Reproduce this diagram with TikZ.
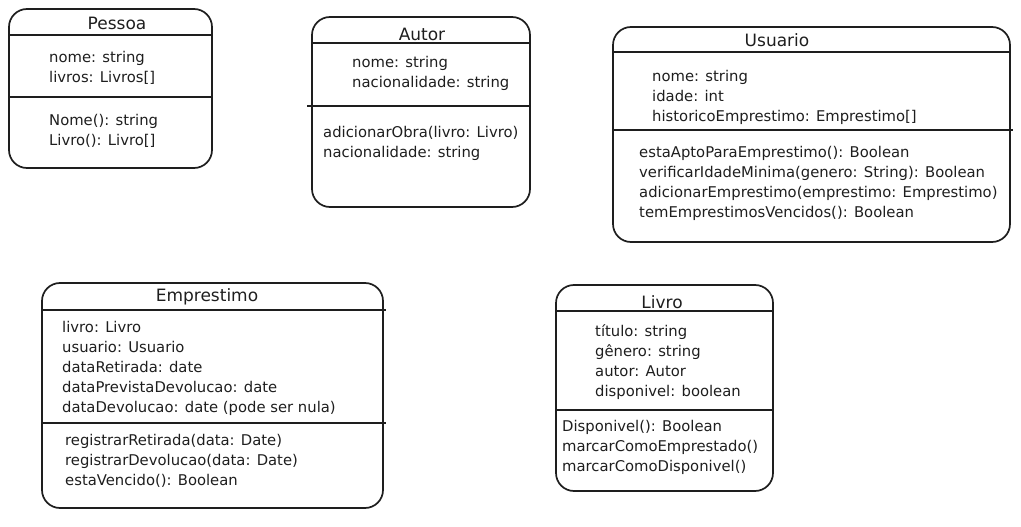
\documentclass[tikz,border=0pt]{standalone}
\usepackage{fontspec}
\setmainfont{DejaVu Sans}
\usepackage{xcolor}
\usepackage{tikz}
\usetikzlibrary{positioning,calc}
\definecolor{ink}{HTML}{1E1E1E}
\tikzset{
  cls/.style  = {draw=ink, line width=1.7pt, rounded corners=18pt,
                 rectangle, inner sep=0pt},
  sep/.style  = {draw=ink, line width=2.4pt},
  ttl/.style  = {inner sep=0pt, text=ink, font=\fontsize{17}{22}\selectfont},
  txt/.style  = {anchor=west, align=left, inner sep=0pt, text=ink,
                 font=\fontsize{14.8}{20}\selectfont},
}

\begin{document}
\begin{tikzpicture}[x=1pt, y=-1pt]
  \useasboundingbox (0,0) rectangle (1021,527);

  % Pessoa
  \node[cls, minimum width=203pt, minimum height=159pt] (pes) at (110.5,88.5) {};
  \draw[sep] ([yshift=-27pt]pes.north west) -- ([yshift=-27pt]pes.north east);
  \draw[sep] ([yshift=-89pt]pes.north west) -- ([yshift=-89pt]pes.north east);
  \node[ttl] (pesT) at (117,23) {Pessoa};
  \node[txt] (pesA) at (49,68) {nome: string\\livros: Livros[]};
  \node[txt] (pesM) at (49,131) {Nome(): string\\Livro(): Livro[]};

  % Autor
  \node[cls, minimum width=218pt, minimum height=190pt] (aut) at (421,112) {};
  \draw[sep] ([yshift=-27pt]aut.north west) -- ([yshift=-27pt]aut.north east);
  \draw[sep] ([xshift=-4pt,yshift=-90pt]aut.north west) -- ([yshift=-90pt]aut.north east);
  \node[ttl] (autT) at (422,34) {Autor};
  \node[txt] (autA) at (352,73) {nome: string\\nacionalidade: string};
  \node[txt] (autM) at (323,143) {adicionarObra(livro: Livro)\\nacionalidade: string};

  % Usuario
  \node[cls, minimum width=397pt, minimum height=215pt] (usu) at (811.5,134.5) {};
  \draw[sep] ([yshift=-26pt]usu.north west) -- ([yshift=-26pt]usu.north east);
  \draw[sep] ([yshift=-104pt]usu.north west) -- ([xshift=2pt,yshift=-104pt]usu.north east);
  \node[ttl] (usuT) at (777,40) {Usuario};
  \node[txt] (usuA) at (652,97) {nome: string\\idade: int\\historicoEmprestimo: Emprestimo[]};
  \node[txt] (usuM) at (639,183) {estaAptoParaEmprestimo(): Boolean\\
    verificarIdadeMinima(genero: String): Boolean\\
    adicionarEmprestimo(emprestimo: Emprestimo)\\
    temEmprestimosVencidos(): Boolean};

  % Emprestimo
  \node[cls, minimum width=341pt, minimum height=225pt] (emp) at (212.5,395.5) {};
  \draw[sep] ([yshift=-28pt]emp.north west) -- ([xshift=2pt,yshift=-28pt]emp.north east);
  \draw[sep] ([yshift=-141pt]emp.north west) -- ([xshift=2pt,yshift=-141pt]emp.north east);
  \node[ttl] (empT) at (207,297) {Emprestimo};
  \node[txt] (empA) at (62,368) {livro: Livro\\usuario: Usuario\\dataRetirada: date\\
    dataPrevistaDevolucao: date\\dataDevolucao: date (pode ser nula)};
  \node[txt] (empM) at (65,461) {registrarRetirada(data: Date)\\
    registrarDevolucao(data: Date)\\estaVencido(): Boolean};

  % Livro
  \node[cls, minimum width=217pt, minimum height=206pt] (liv) at (664.5,388) {};
  \draw[sep] ([yshift=-27pt]liv.north west) -- ([yshift=-27pt]liv.north east);
  \draw[sep] ([xshift=2pt,yshift=-126pt]liv.north west) -- ([yshift=-126pt]liv.north east);
  \node[ttl] (livT) at (662,302) {Livro};
  \node[txt] (livA) at (595,362) {título: string\\gênero: string\\autor: Autor\\disponivel: boolean};
  \node[txt] (livM) at (562,447) {Disponivel(): Boolean\\marcarComoEmprestado()\\marcarComoDisponivel()};
\end{tikzpicture}
\end{document}
